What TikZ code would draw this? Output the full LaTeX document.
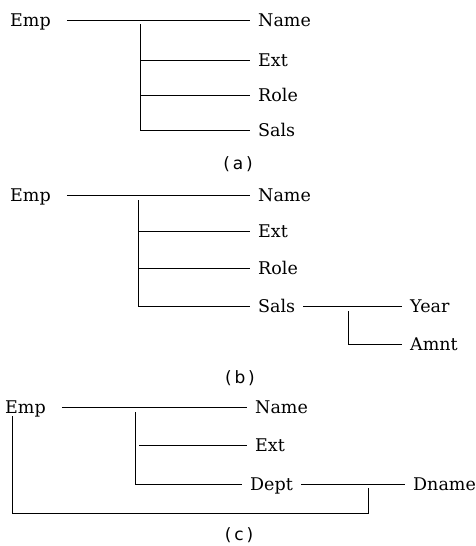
\documentclass[tikz,border=0pt]{standalone}
\usepackage{tikz}
\usepackage{fontspec}
\setmainfont{DejaVu Serif}
\setsansfont{DejaVu Sans}
\usetikzlibrary{calc}

\begin{document}
\begin{tikzpicture}[x=1pt,y=-1pt,
        field/.style={font=\fontsize{17.5}{20}\selectfont, text height=12.5pt, text depth=0pt,
                      inner xsep=8pt, inner ysep=0pt, anchor=west},
        caption/.style={font=\sffamily\fontsize{17}{20}\selectfont},
        link/.style={line width=.8pt},
        from emp/.style={link, shorten <=8pt}]
        \useasboundingbox (0,0) rectangle (476,546);

        % (a)
        \node[field] (ea) at (2,20)    {Emp};
        \node[field] (a1) at (250,20)  {Name};
        \node[field] (a2) at (250,60)  {Ext};
        \node[field] (a3) at (250,95)  {Role};
        \node[field] (a4) at (250,130) {Sals};
        \coordinate (ja) at (140,24);
        \draw[from emp] (ea) -- (a1);
        \draw[link] (ja) |- (a4);
        \foreach \n in {a2,a3} \draw[link] (ja |- \n) -- (\n);
        \node[caption] (la) at (238,164) {(\,a\,)};

        % (b)
        \node[field] (eb) at (2,195)   {Emp};
        \node[field] (b1) at (250,195) {Name};
        \node[field] (b2) at (250,231) {Ext};
        \node[field] (b3) at (250,268) {Role};
        \node[field] (b4) at (250,306) {Sals};
        \node[field] (b5) at (402,306) {Year};
        \node[field] (b6) at (402,344) {Amnt};
        \coordinate (jb) at (138,200);
        \coordinate (kb) at (348,311);
        \draw[from emp] (eb) -- (b1);
        \draw[link] (jb) |- (b4);
        \foreach \n in {b2,b3} \draw[link] (jb |- \n) -- (\n);
        \draw[link] (b4) -- (b5);
        \draw[link] (kb) |- (b6);
        \node[caption] (lb) at (240,378) {(\,b\,)};

        % (c)
        \node[field] (ec) at (-3,407)  {Emp};
        \node[field] (c1) at (247,407) {Name};
        \node[field] (c2) at (247,445) {Ext};
        \node[field] (c3) at (242,484) {Dept};
        \node[field] (c4) at (405,484) {Dname};
        \coordinate (jc) at (135,412);
        \coordinate (kc) at (368,488);
        \coordinate (cb) at (12,513);
        \coordinate (cl) at (12,416);
        \draw[from emp] (ec) -- (c1);
        \draw[link] (jc) |- (c3);
        \draw[link] (jc |- c2) ++(4,0) -- (c2);
        \draw[link] (c3) -- (c4);
        \draw[link] (kc) |- (cb) -- (cl);
        \node[caption] (lc) at (239,535) {(\,c\,)};
      \end{tikzpicture}
\end{document}
